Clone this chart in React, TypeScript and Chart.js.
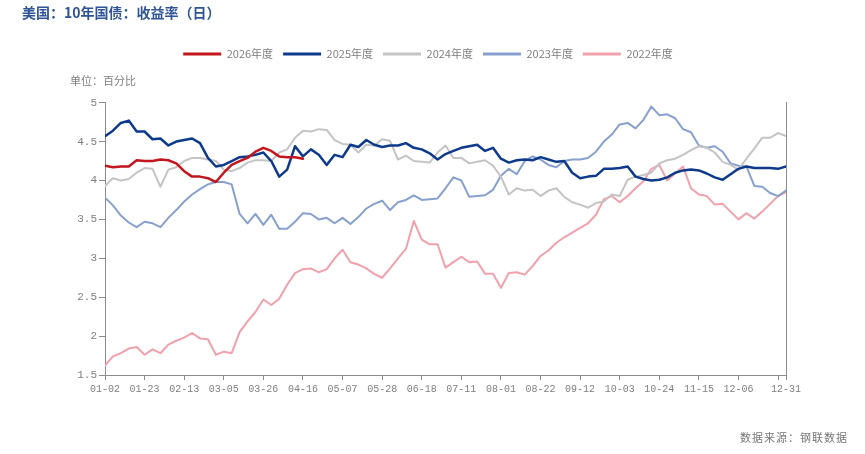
import React, { useEffect, useRef } from 'react';
import { Chart, registerables } from 'chart.js';

Chart.register(...registerables);

const SERIES_NAMES = ['2026年度', '2025年度', '2024年度', '2023年度', '2022年度'];
const SERIES_COLORS = ['#c3161f', '#0d3a8a', '#c4c4c4', '#87a0cd', '#f2a1ac'];
const SERIES_WIDTHS = [2.5, 2.5, 2, 2, 2];

// trading-day index of each sample = position * SAMPLE_STEP
const SAMPLE_STEP = 3;
const LAST_DAY = 258;
const TICK_STEP = 15;
const TICK_LABELS = ['01-02', '01-23', '02-13', '03-05', '03-26', '04-16', '05-07', '05-28', '06-18', '07-11', '08-01', '08-22', '09-12', '10-03', '10-24', '11-15', '12-06', '', '12-31'];
const Y_TICKS = { min: 1.5, max: 5, step: 0.5 };

const Y2026 = [4.19, 4.17, 4.18, 4.18, 4.26, 4.25, 4.25, 4.27, 4.26, 4.22, 4.12, 4.05, 4.05, 4.03, 3.98, 4.10, 4.20, 4.25, 4.29, 4.37, 4.42, 4.38, 4.31, 4.30, 4.30, 4.28];

const Y2025 = [4.57, 4.64, 4.74, 4.77, 4.63, 4.63, 4.53, 4.54, 4.45, 4.50,
  4.52, 4.54, 4.48, 4.29, 4.18, 4.20, 4.25, 4.30, 4.31, 4.33,
  4.36, 4.25, 4.05, 4.14, 4.44, 4.31, 4.40, 4.33, 4.20, 4.33,
  4.30, 4.46, 4.43, 4.52, 4.46, 4.43, 4.45, 4.45, 4.48, 4.42,
  4.40, 4.35, 4.27, 4.34, 4.38, 4.42, 4.44, 4.46, 4.38, 4.42,
  4.28, 4.23, 4.26, 4.27, 4.26, 4.30, 4.27, 4.24, 4.25, 4.10,
  4.03, 4.05, 4.06, 4.15, 4.15, 4.16, 4.18, 4.05, 4.02, 4.00,
  4.01, 4.04, 4.10, 4.13, 4.14, 4.13, 4.09, 4.04, 4.01, 4.08,
  4.15, 4.18, 4.16, 4.16, 4.16, 4.15, 4.18];

const Y2024 = [3.93, 4.03, 4.00, 4.02, 4.10, 4.16, 4.15, 3.92, 4.14, 4.17,
  4.25, 4.29, 4.29, 4.27, 4.25, 4.14, 4.12, 4.16, 4.23, 4.26,
  4.26, 4.25, 4.36, 4.40, 4.55, 4.64, 4.63, 4.66, 4.65, 4.52,
  4.47, 4.46, 4.36, 4.46, 4.45, 4.53, 4.51, 4.27, 4.32, 4.25,
  4.24, 4.23, 4.36, 4.45, 4.29, 4.29, 4.22, 4.24, 4.26, 4.19,
  4.05, 3.82, 3.90, 3.87, 3.88, 3.80, 3.87, 3.90, 3.79, 3.72,
  3.69, 3.65, 3.71, 3.73, 3.82, 3.80, 4.01, 4.05, 4.07, 4.10,
  4.22, 4.26, 4.28, 4.33, 4.39, 4.44, 4.42, 4.36, 4.24, 4.20,
  4.14, 4.28, 4.41, 4.55, 4.55, 4.61, 4.57];

const Y2023 = [3.78, 3.68, 3.55, 3.46, 3.40, 3.47, 3.45, 3.40, 3.52, 3.62,
  3.73, 3.82, 3.89, 3.95, 3.98, 3.98, 3.95, 3.57, 3.45, 3.57,
  3.43, 3.56, 3.38, 3.38, 3.47, 3.58, 3.57, 3.50, 3.52, 3.45,
  3.52, 3.44, 3.53, 3.64, 3.70, 3.74, 3.62, 3.72, 3.75, 3.81,
  3.75, 3.76, 3.77, 3.90, 4.04, 4.00, 3.79, 3.80, 3.81, 3.88,
  4.06, 4.15, 4.08, 4.25, 4.31, 4.27, 4.20, 4.17, 4.25, 4.27,
  4.27, 4.29, 4.37, 4.50, 4.59, 4.72, 4.74, 4.67, 4.78, 4.95,
  4.84, 4.85, 4.80, 4.66, 4.62, 4.45, 4.42, 4.44, 4.37, 4.22,
  4.19, 4.18, 3.93, 3.92, 3.84, 3.80, 3.87];

const Y2022 = [1.62, 1.74, 1.78, 1.84, 1.86, 1.76, 1.83, 1.78, 1.89, 1.94,
  1.98, 2.04, 1.97, 1.96, 1.76, 1.80, 1.78, 2.05, 2.19, 2.31,
  2.47, 2.40, 2.48, 2.66, 2.81, 2.86, 2.87, 2.82, 2.86, 3.00,
  3.11, 2.95, 2.92, 2.87, 2.80, 2.75, 2.87, 3.00, 3.12, 3.48,
  3.24, 3.18, 3.18, 2.88, 2.95, 3.02, 2.95, 2.96, 2.80, 2.80,
  2.62, 2.81, 2.82, 2.79, 2.90, 3.03, 3.10, 3.20, 3.27, 3.33,
  3.39, 3.45, 3.56, 3.76, 3.80, 3.72, 3.80, 3.90, 3.99, 4.15,
  4.20, 4.00, 4.09, 4.18, 3.90, 3.82, 3.80, 3.69, 3.70, 3.60,
  3.50, 3.58, 3.51, 3.60, 3.70, 3.80, 3.85];

const SANS = '"Noto Sans CJK SC", "Noto Sans", sans-serif';
const MONO = '"Liberation Mono", "DejaVu Sans Mono", monospace';
const AXIS_COLOR = '#8c8c8c';
const TEXT_COLOR = '#7f7f7f';

export default function App() {
  const ref = useRef<HTMLCanvasElement>(null);

  useEffect(() => {
    const series = [Y2026, Y2025, Y2024, Y2023, Y2022];
    const tickDays: number[] = TICK_LABELS.map((_, i) => (i < TICK_LABELS.length - 1 ? i * TICK_STEP : LAST_DAY));
    const chart = new Chart(ref.current as HTMLCanvasElement, {
      type: 'line',
      data: {
        datasets: series.map((vals, s) => ({
          label: SERIES_NAMES[s],
          data: vals.map((v, k) => ({ x: k * SAMPLE_STEP, y: v })),
          borderColor: SERIES_COLORS[s],
          backgroundColor: SERIES_COLORS[s],
          borderWidth: SERIES_WIDTHS[s],
          pointRadius: 0,
          tension: 0,
          fill: false,
          yAxisID: 'y',
          borderJoinStyle: 'round',
          borderCapStyle: 'round',
        })),
      },
      options: {
        responsive: false,
        animation: false,
        devicePixelRatio: 1,
        layout: { padding: { left: 70, right: 79, top: 38.5, bottom: 0 } },
        plugins: {
          legend: {
            display: true,
            position: 'top',
            align: 'center',
            labels: {
              boxWidth: 38,
              boxHeight: 3,
              padding: 10,
              color: TEXT_COLOR,
              font: { size: 11, family: SANS },
              generateLabels: (c: any) =>
                (Chart.defaults.plugins.legend.labels.generateLabels as any)(c).map((it: any) => ({
                  ...it,
                  lineWidth: 0,
                  fillStyle: it.strokeStyle,
                })),
            },
          },
          subtitle: {
            display: true,
            text: '单位：百分比',
            align: 'start',
            position: 'top',
            weight: 500,
            color: TEXT_COLOR,
            font: { size: 11, family: SANS, weight: 'normal' },
            padding: { top: 5, bottom: 15 },
          },
          title: { display: false },
          tooltip: { enabled: false },
        },
        scales: {
          x: {
            type: 'linear',
            min: 0,
            max: LAST_DAY,
            afterBuildTicks: (scale: any) => {
              scale.ticks = tickDays.map((v) => ({ value: v }));
            },
            afterFit: (scale: any) => {
              scale.height = 79;
              scale.paddingLeft = 0;
              scale.paddingRight = 0;
            },
            grid: { display: true, drawOnChartArea: false, drawTicks: true, tickLength: 5, color: AXIS_COLOR },
            border: { display: true, color: AXIS_COLOR, width: 1 },
            ticks: {
              autoSkip: false,
              maxRotation: 0,
              minRotation: 0,
              padding: 3,
              color: TEXT_COLOR,
              font: { size: 10, family: MONO },
              callback: (_v: any, i: number) => TICK_LABELS[i],
            },
          },
          y: {
            position: 'left',
            min: Y_TICKS.min,
            max: Y_TICKS.max,
            afterFit: (scale: any) => {
              scale.width = 35;
            },
            grid: { display: true, drawOnChartArea: false, drawTicks: true, tickLength: 6, color: AXIS_COLOR },
            border: { display: true, color: AXIS_COLOR, width: 1 },
            ticks: {
              stepSize: Y_TICKS.step,
              padding: 2,
              color: TEXT_COLOR,
              font: { size: 11, family: MONO },
              callback: (v: any) => String(Number(v)),
            },
          },
          y2: {
            position: 'right',
            min: Y_TICKS.min,
            max: Y_TICKS.max,
            afterFit: (scale: any) => {
              scale.width = 0;
            },
            grid: { display: false },
            border: { display: true, color: AXIS_COLOR, width: 1 },
            ticks: { display: false },
          },
        },
      } as any,
    });
    return () => chart.destroy();
  }, []);

  return (
    <div style={{ position: 'fixed', left: 0, top: 0, width: 865, height: 454, background: '#fff', overflow: 'hidden' }}>
      <canvas ref={ref} width={865} height={454} style={{ position: 'absolute', left: 0, top: 0, width: 865, height: 454 }} />
      <div
        style={{
          position: 'absolute',
          left: 22,
          top: 3,
          fontFamily: SANS,
          fontWeight: 'bold',
          fontSize: 14,
          color: '#2f5597',
          whiteSpace: 'nowrap',
          lineHeight: '18px',
        }}
      >
        美国：10年国债：收益率（日）
      </div>
      <div
        style={{
          position: 'absolute',
          left: 740,
          top: 429,
          fontFamily: SANS,
          fontSize: 11,
          letterSpacing: 1,
          color: '#777',
          whiteSpace: 'nowrap',
          lineHeight: '16px',
        }}
      >
        数据来源：钢联数据
      </div>
    </div>
  );
}
